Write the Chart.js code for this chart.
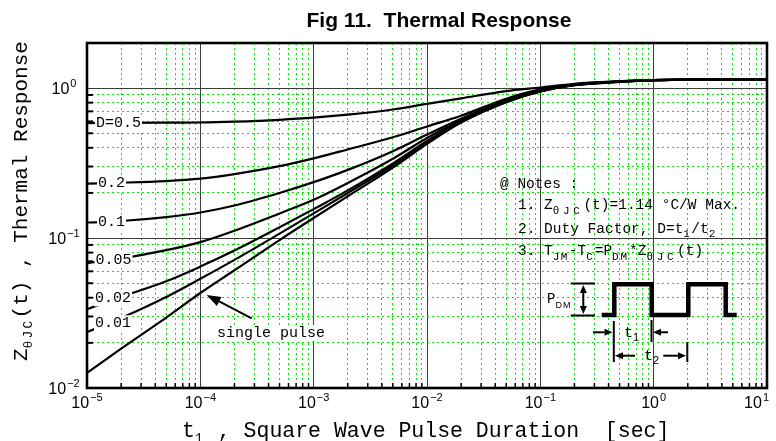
<!DOCTYPE html>
<html>
<head>
<meta charset="utf-8">
<title>Fig 11. Thermal Response</title>
<script src="https://cdn.jsdelivr.net/npm/chart.js@4.4.1/dist/chart.umd.min.js"></script>
<style>
  body { margin: 0; background: #fff; }
  canvas { display: block; }
</style>
</head>
<body>
<canvas id="thermalChart" width="776" height="441"></canvas>
<script>
const pulseTimes = [1e-5, 2e-5, 5e-5, 1e-4, 2e-4, 5e-4, 1e-3, 2e-3, 5e-3, 1e-2, 2e-2, 5e-2, 1e-1, 2e-1, 5e-1, 1, 2, 5, 10];

// normalised thermal response per duty factor
const zD50   = [0.585, 0.586, 0.588, 0.590, 0.598, 0.615, 0.635, 0.665, 0.720, 0.785, 0.855, 0.955, 1.010, 1.070, 1.110, 1.130, 1.140, 1.140, 1.140];
const zD20   = [0.231, 0.234, 0.240, 0.249, 0.267, 0.302, 0.340, 0.390, 0.470, 0.555, 0.655, 0.850, 0.980, 1.060, 1.110, 1.130, 1.140, 1.140, 1.140];
const zD10   = [0.127, 0.130, 0.138, 0.148, 0.165, 0.200, 0.236, 0.285, 0.380, 0.490, 0.625, 0.830, 0.970, 1.055, 1.110, 1.130, 1.140, 1.140, 1.140];
const zD05   = [0.068, 0.073, 0.083, 0.094, 0.112, 0.146, 0.180, 0.233, 0.338, 0.465, 0.610, 0.820, 0.960, 1.050, 1.105, 1.130, 1.140, 1.140, 1.140];
const zD02   = [0.0335, 0.0405, 0.0515, 0.0645, 0.0825, 0.118, 0.156, 0.208, 0.315, 0.445, 0.600, 0.815, 0.955, 1.050, 1.105, 1.130, 1.140, 1.140, 1.140];
const zD01   = [0.0236, 0.0293, 0.0405, 0.0535, 0.0715, 0.107, 0.146, 0.200, 0.305, 0.435, 0.595, 0.810, 0.952, 1.048, 1.105, 1.130, 1.140, 1.140, 1.140];
const zSingle = [0.0126, 0.0183, 0.0295, 0.043, 0.061, 0.097, 0.136, 0.190, 0.295, 0.425, 0.590, 0.805, 0.950, 1.045, 1.100, 1.130, 1.140, 1.140, 1.140];

const curveNames = ['D=0.5', '0.2', '0.1', '0.05', '0.02', '0.01', 'single pulse'];
const curveValues = [zD50, zD20, zD10, zD05, zD02, zD01, zSingle];

// axis decades and their exponent labels
const xDecades = [1e-5, 1e-4, 1e-3, 1e-2, 1e-1, 1, 10];
const xDecadeExps = ['\u22125', '\u22124', '\u22123', '\u22122', '\u22121', '0', '1'];
const yDecades = [0.01, 0.1, 1];
const yDecadeExps = ['\u22122', '\u22121', '0'];
const minorSteps = [2, 3, 4, 5, 6, 7, 8, 9];

const MONO = '"Liberation Mono", "Courier New", monospace';
const SANS = '"Liberation Sans", Arial, sans-serif';
const MAJOR_GRID = '#3c3c3c';
const MINOR_GRID = '#00e800';

function withMinors(decades, max) {
    const vals = [];
    decades.forEach(d => {
        vals.push(d);
        minorSteps.forEach(m => {
            if (d * m <= max * 1.0001) vals.push(d * m);
        });
    });
    return vals;
}

function isDecade(v) {
    const l = Math.log10(v);
    return Math.abs(l - Math.round(l)) < 1e-9;
}

const xGridValues = withMinors(xDecades, 10);
const yGridValues = withMinors(yDecades, 2);

// text with subscripts, left aligned on the baseline
function richText(ctx, x, y, parts, font, subFont, subDy) {
    parts.forEach(p => {
        if (p.sub) {
            ctx.font = subFont;
            [...p.t].forEach(ch => {
                ctx.fillText(ch, x, y + subDy);
                x += p.adv || ctx.measureText(ch).width;
            });
        } else {
            ctx.font = font;
            ctx.fillText(p.t, x, y);
            x += ctx.measureText(p.t).width;
        }
    });
    return x;
}

function arrow(ctx, x1, y1, x2, y2, len, half) {
    const a = Math.atan2(y2 - y1, x2 - x1);
    const bx = x2 - Math.cos(a) * len, by = y2 - Math.sin(a) * len;
    ctx.beginPath();
    ctx.moveTo(x1, y1);
    ctx.lineTo(bx, by);
    ctx.stroke();
    ctx.beginPath();
    ctx.moveTo(x2, y2);
    ctx.lineTo(bx + Math.sin(a) * half, by - Math.cos(a) * half);
    ctx.lineTo(bx - Math.sin(a) * half, by + Math.cos(a) * half);
    ctx.closePath();
    ctx.fill();
}

const curveLabels = [
    { text: 'D=0.5', dx: 9, z: 0.587 },
    { text: '0.2', dx: 11, z: 0.232 },
    { text: '0.1', dx: 11, z: 0.127 },
    { text: '0.05', dx: 8.5, z: 0.0713 },
    { text: '0.02', dx: 8, z: 0.0396 },
    { text: '0.01', dx: 8, z: 0.027 }
];

const decorPlugin = {
    id: 'decor',
    afterDatasetsDraw(chart) {
        const ctx = chart.ctx;
        const ca = chart.chartArea;
        const xs = chart.scales.x, ys = chart.scales.y;
        // offsets so the insets follow the plot area
        const ox = ca.left - 87, oy = ca.top - 43;

        ctx.save();
        ctx.fillStyle = '#000';
        ctx.strokeStyle = '#000';
        ctx.textAlign = 'left';
        ctx.textBaseline = 'alphabetic';

        // inward tick marks on left and bottom
        ctx.lineWidth = 2;
        yGridValues.forEach(v => {
            if (isDecade(v)) return;
            const py = ys.getPixelForValue(v);
            if (py <= ca.top + 1) return;
            ctx.beginPath();
            ctx.moveTo(ca.left, py);
            ctx.lineTo(ca.left + 6, py);
            ctx.stroke();
        });
        ctx.lineWidth = 1.5;
        xGridValues.forEach(v => {
            if (isDecade(v)) return;
            const px = xs.getPixelForValue(v);
            ctx.beginPath();
            ctx.moveTo(px, ca.bottom);
            ctx.lineTo(px, ca.bottom - 5);
            ctx.stroke();
        });

        // frame
        ctx.lineWidth = 2.6;
        ctx.strokeRect(ca.left, ca.top, ca.right - ca.left, ca.bottom - ca.top);

        // curve labels on white patches
        ctx.font = '15px ' + MONO;
        ctx.textBaseline = 'middle';
        curveLabels.forEach(l => {
            const px = ca.left + l.dx;
            const py = ys.getPixelForValue(l.z);
            const w = ctx.measureText(l.text).width;
            ctx.fillStyle = '#fff';
            ctx.fillRect(px - 1, py - 8, w + 2, 16);
            ctx.fillStyle = '#000';
            ctx.fillText(l.text, px, py);
        });

        // single pulse label and arrow
        const sw = ctx.measureText('single pulse').width;
        ctx.fillStyle = '#fff';
        ctx.fillRect(216 + ox, 325 + oy, sw + 2, 16);
        ctx.fillStyle = '#000';
        ctx.fillText('single pulse', 217 + ox, 333.5 + oy);
        ctx.lineWidth = 2;
        arrow(ctx, 251.7 + ox, 318.3 + oy, 206.7 + ox, 295 + oy, 14, 5);

        // notes
        ctx.textBaseline = 'alphabetic';
        const nf = '14.5px ' + MONO, sf = '11px ' + MONO;
        ctx.font = nf;
        ctx.fillText('@ Notes :', 500 + ox, 187.5 + oy);
        richText(ctx, 518 + ox, 209 + oy,
            [{ t: '1. Z' }, { t: '\u03b8JC', sub: 1, adv: 10.2 }, { t: '(t)=1.14 \u00b0C/W Max.' }],
            nf, sf, 4.5);
        richText(ctx, 518 + ox, 232.5 + oy,
            [{ t: '2. Duty Factor, D=t' }, { t: '1', sub: 1, adv: 8 }, { t: '/t' }, { t: '2', sub: 1, adv: 8 }],
            nf, sf, 4.5);
        richText(ctx, 518 + ox, 255 + oy,
            [{ t: '3. T' }, { t: 'JM', sub: 1, adv: 8 }, { t: '-T' }, { t: 'C', sub: 1, adv: 8.5 },
             { t: '=P' }, { t: 'DM', sub: 1, adv: 8.5 }, { t: '*Z' }, { t: '\u03b8JC', sub: 1, adv: 10.2 }, { t: '(t)' }],
            nf, sf, 4.5);

        // pulse train sketch
        ctx.lineWidth = 4.5;
        ctx.lineJoin = 'miter';
        ctx.beginPath();
        [[601.7, 315], [614.3, 315], [614.3, 284.2], [651.7, 284.2], [651.7, 315], [688.3, 315],
         [688.3, 284.2], [725.7, 284.2], [725.7, 315], [736.7, 315]].forEach((p, i) => {
            if (i === 0) ctx.moveTo(p[0] + ox, p[1] + oy);
            else ctx.lineTo(p[0] + ox, p[1] + oy);
        });
        ctx.stroke();

        ctx.lineWidth = 2;
        ctx.beginPath();
        ctx.moveTo(570.7 + ox, 283.5 + oy); ctx.lineTo(595 + ox, 283.5 + oy);
        ctx.moveTo(570.7 + ox, 315.5 + oy); ctx.lineTo(595 + ox, 315.5 + oy);
        ctx.moveTo(613.8 + ox, 321 + oy); ctx.lineTo(613.8 + ox, 362 + oy);
        ctx.moveTo(651.5 + ox, 320 + oy); ctx.lineTo(651.5 + ox, 342 + oy);
        ctx.moveTo(687.3 + ox, 342 + oy); ctx.lineTo(687.3 + ox, 362 + oy);
        ctx.stroke();
        arrow(ctx, 583.3 + ox, 299 + oy, 583.3 + ox, 285 + oy, 8, 3.5);
        arrow(ctx, 583.3 + ox, 299 + oy, 583.3 + ox, 314 + oy, 8, 3.5);
        arrow(ctx, 593 + ox, 332.3 + oy, 612.5 + ox, 332.3 + oy, 8, 3.5);
        arrow(ctx, 668 + ox, 332.3 + oy, 653 + ox, 332.3 + oy, 8, 3.5);
        arrow(ctx, 635 + ox, 355.7 + oy, 615 + ox, 355.7 + oy, 8, 3.5);
        arrow(ctx, 663.3 + ox, 355.7 + oy, 686 + ox, 355.7 + oy, 8, 3.5);

        richText(ctx, 547 + ox, 303 + oy, [{ t: 'P' }, { t: 'DM', sub: 1, adv: 7.5 }], '14px ' + MONO, '9px ' + SANS, 5);
        richText(ctx, 624 + ox, 337 + oy, [{ t: 't' }, { t: '1', sub: 1 }], '15px ' + MONO, '11px ' + SANS, 4);
        richText(ctx, 644 + ox, 360 + oy, [{ t: 't' }, { t: '2', sub: 1 }], '15px ' + MONO, '11px ' + SANS, 4);

        ctx.restore();
    },
    afterDraw(chart) {
        const ctx = chart.ctx;
        const ca = chart.chartArea;
        const xs = chart.scales.x, ys = chart.scales.y;
        ctx.save();
        ctx.fillStyle = '#000';
        ctx.textBaseline = 'alphabetic';
        ctx.textAlign = 'left';

        // decade tick labels, 10 with raised exponent
        const base = '16px ' + SANS, sup = '11px ' + SANS;
        xDecades.forEach((d, i) => {
            const px = xs.getPixelForValue(d);
            ctx.font = base;
            const w10 = ctx.measureText('10').width;
            ctx.font = sup;
            const we = ctx.measureText(xDecadeExps[i]).width;
            let sx = px - (w10 + 1 + we) / 2;
            sx = Math.min(sx, chart.width - 7 - (w10 + 1 + we));
            ctx.font = base;
            ctx.fillText('10', sx, ca.bottom + 20);
            ctx.font = sup;
            ctx.fillText(xDecadeExps[i], sx + w10 + 1, ca.bottom + 13);
        });
        yDecades.forEach((d, i) => {
            const py = ys.getPixelForValue(d);
            ctx.font = base;
            const w10 = ctx.measureText('10').width;
            ctx.font = sup;
            const we = ctx.measureText(yDecadeExps[i]).width;
            const sx = ca.left - 23 - (w10 + 1 + we) / 2;
            ctx.font = base;
            ctx.fillText('10', sx, py + 6);
            ctx.font = sup;
            ctx.fillText(yDecadeExps[i], sx + w10 + 1, py - 1);
        });

        // axis titles
        const tf = '21.5px ' + MONO, tsf = '13px ' + MONO;
        richText(ctx, ca.left + 95, ca.bottom + 49,
            [{ t: 't' }, { t: '1', sub: 1, adv: 10 }, { t: ' , Square Wave Pulse Duration  [sec]' }], tf, tsf, 5);
        ctx.save();
        ctx.translate(ca.left - 60, ca.bottom - 27);
        ctx.rotate(-Math.PI / 2);
        richText(ctx, 0, 0,
            [{ t: 'Z' }, { t: '\u03b8JC', sub: 1, adv: 10 }, { t: '(t) , Thermal Response' }], '21px ' + MONO, tsf, 5);
        ctx.restore();

        // chart title
        ctx.font = 'bold 21px ' + SANS;
        ctx.textAlign = 'center';
        ctx.fillText('Fig 11.  Thermal Response', 439, 27);
        ctx.restore();
    }
};

const ctx = document.getElementById('thermalChart').getContext('2d');
const chart = new Chart(ctx, {
    type: 'line',
    data: {
        datasets: curveValues.map((vals, k) => ({
            label: curveNames[k],
            data: pulseTimes.map((t, i) => ({ x: t, y: vals[i] })),
            borderColor: '#000',
            borderWidth: 2.2,
            pointRadius: 0,
            fill: false,
            cubicInterpolationMode: 'monotone'
        }))
    },
    options: {
        responsive: false,
        animation: false,
        devicePixelRatio: 1,
        events: [],
        layout: { padding: { left: 87, right: 9, top: 43, bottom: 53 } },
        plugins: {
            legend: { display: false },
            tooltip: { enabled: false },
            title: { display: false }
        },
        scales: {
            x: {
                type: 'logarithmic',
                min: 1e-5,
                max: 10,
                afterBuildTicks: s => { s.ticks = xGridValues.map(v => ({ value: v })); },
                ticks: { display: false, autoSkip: false },
                grid: {
                    drawTicks: false,
                    lineWidth: 1,
                    color: c => (c.tick && isDecade(c.tick.value)) ? MAJOR_GRID : MINOR_GRID
                },
                border: {
                    display: false,
                    dash: c => (c.tick && !isDecade(c.tick.value)) ? [2, 3] : []
                }
            },
            y: {
                type: 'logarithmic',
                min: 0.01,
                max: 2,
                afterBuildTicks: s => { s.ticks = yGridValues.map(v => ({ value: v })); },
                ticks: { display: false, autoSkip: false },
                grid: {
                    drawTicks: false,
                    lineWidth: 1,
                    color: c => (c.tick && isDecade(c.tick.value)) ? MAJOR_GRID : MINOR_GRID
                },
                border: {
                    display: false,
                    dash: c => (c.tick && !isDecade(c.tick.value)) ? [2, 3] : []
                }
            }
        }
    },
    plugins: [decorPlugin]
});
</script>
</body>
</html>
